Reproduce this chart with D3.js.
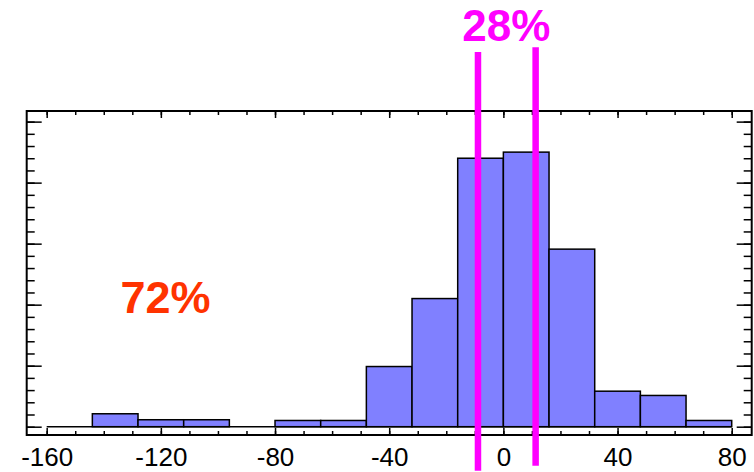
<!DOCTYPE html>
<html>
<head>
<meta charset="utf-8">
<script src="https://cdn.jsdelivr.net/npm/d3@7"></script>
<style>
  body { margin: 0; background: #fff; }
  svg { display: block; font-family: "Liberation Sans", Arial, sans-serif; }
</style>
</head>
<body>
<div id="chart"></div>
<script>
// histogram bins (start of each bin, width 16) and bar heights
const binStarts = [-160, -144, -128, -112, -96, -80, -64, -48, -32, -16, 0, 16, 32, 48, 64]
const binWidth = 16
const heights = [0, 1.06, 0.57, 0.57, 0, 0.51, 0.51, 4.93, 10.5, 22.0, 22.5, 14.55, 2.91, 2.56, 0.51]

const xMajor = [-160, -120, -80, -40, 0, 40, 80]
const xMinor = d3.range(-160, 81, 10)
const yMajor = [0, 5, 10, 15, 20, 25]
const yMinor = d3.range(0, 26, 1)

// the two cut lines and the share labels
const cutLines = [
    { x: -8.9, y0: -3.6, y1: 30.7 },
    { x: 11.3, y0: -3.2, y1: 31.1 }
]
const labels = [
    { text: '72%', x: -118.4, y: 9.28, color: '#ff3300', size: 45 },
    { text: '28%', x: 1.05, y: 31.6, color: '#ff00ff', size: 44 }
]

const width = 754, height = 472
const frame = { left: 26.7, right: 751.7, top: 111, bottom: 435 }

const x = d3.scaleLinear().domain([-167, 87]).range([frame.left, frame.right])
const y = d3.scaleLinear().domain([-0.68, 25.87]).range([frame.bottom, frame.top])

const svg = d3.select('#chart').append('svg')
    .attr('width', width)
    .attr('height', height)

// bars
const bars = binStarts.map((s, i) => ({ x0: s, x1: s + binWidth, v: heights[i] }))

svg.append('line')
    .attr('x1', x(-160)).attr('x2', x(80))
    .attr('y1', y(0)).attr('y2', y(0))
    .attr('stroke', 'black').attr('stroke-width', 1.5)

svg.append('g')
    .selectAll('rect')
    .data(bars.filter(d => d.v > 0))
    .enter()
    .append('rect')
    .attr('x', d => x(d.x0))
    .attr('y', d => y(d.v))
    .attr('width', d => x(d.x1) - x(d.x0))
    .attr('height', d => y(0) - y(d.v))
    .attr('fill', '#8080ff')
    .attr('stroke', 'black')
    .attr('stroke-width', 1.5)

// axes, ticks pointing inward on all four sides
function addAxis(axis, tx, ty, labelled) {
    const g = svg.append('g')
        .attr('transform', `translate(${tx},${ty})`)
        .call(axis)
    g.select('.domain').remove()
    g.selectAll('.tick line').attr('stroke', 'black').attr('stroke-width', 1.5)
    if (labelled) {
        g.selectAll('.tick text')
            .attr('fill', 'black')
            .attr('font-size', 26)
            .attr('font-family', '"Liberation Sans", Arial, sans-serif')
    }
    return g
}

addAxis(d3.axisBottom(x).tickValues(xMinor).tickSize(-4).tickFormat(''), 0, frame.bottom)
addAxis(d3.axisBottom(x).tickValues(xMajor).tickSize(-7).tickPadding(13).tickFormat(d => String(d)), 0, frame.bottom, true)
addAxis(d3.axisTop(x).tickValues(xMinor).tickSize(-4).tickFormat(''), 0, frame.top)
addAxis(d3.axisTop(x).tickValues(xMajor).tickSize(-7).tickFormat(''), 0, frame.top)

addAxis(d3.axisLeft(y).tickValues(yMinor).tickSize(-8).tickFormat(''), frame.left, 0)
addAxis(d3.axisLeft(y).tickValues(yMajor).tickSize(-15).tickFormat(''), frame.left, 0)
addAxis(d3.axisRight(y).tickValues(yMinor).tickSize(-8).tickFormat(''), frame.right, 0)
addAxis(d3.axisRight(y).tickValues(yMajor).tickSize(-15).tickFormat(''), frame.right, 0)

svg.append('rect')
    .attr('x', frame.left).attr('y', frame.top)
    .attr('width', frame.right - frame.left)
    .attr('height', frame.bottom - frame.top)
    .attr('fill', 'none')
    .attr('stroke', 'black')
    .attr('stroke-width', 2)

// magenta cut lines
svg.append('g')
    .selectAll('line')
    .data(cutLines)
    .enter()
    .append('line')
    .attr('x1', d => x(d.x)).attr('x2', d => x(d.x))
    .attr('y1', d => y(d.y0)).attr('y2', d => y(d.y1))
    .attr('stroke', '#ff00ff')
    .attr('stroke-width', 6.5)

// percentage labels
svg.append('g')
    .selectAll('text')
    .data(labels)
    .enter()
    .append('text')
    .attr('x', d => x(d.x))
    .attr('y', d => y(d.y))
    .attr('text-anchor', 'middle')
    .attr('font-weight', 'bold')
    .attr('font-size', d => d.size)
    .attr('fill', d => d.color)
    .text(d => d.text)
</script>
</body>
</html>
